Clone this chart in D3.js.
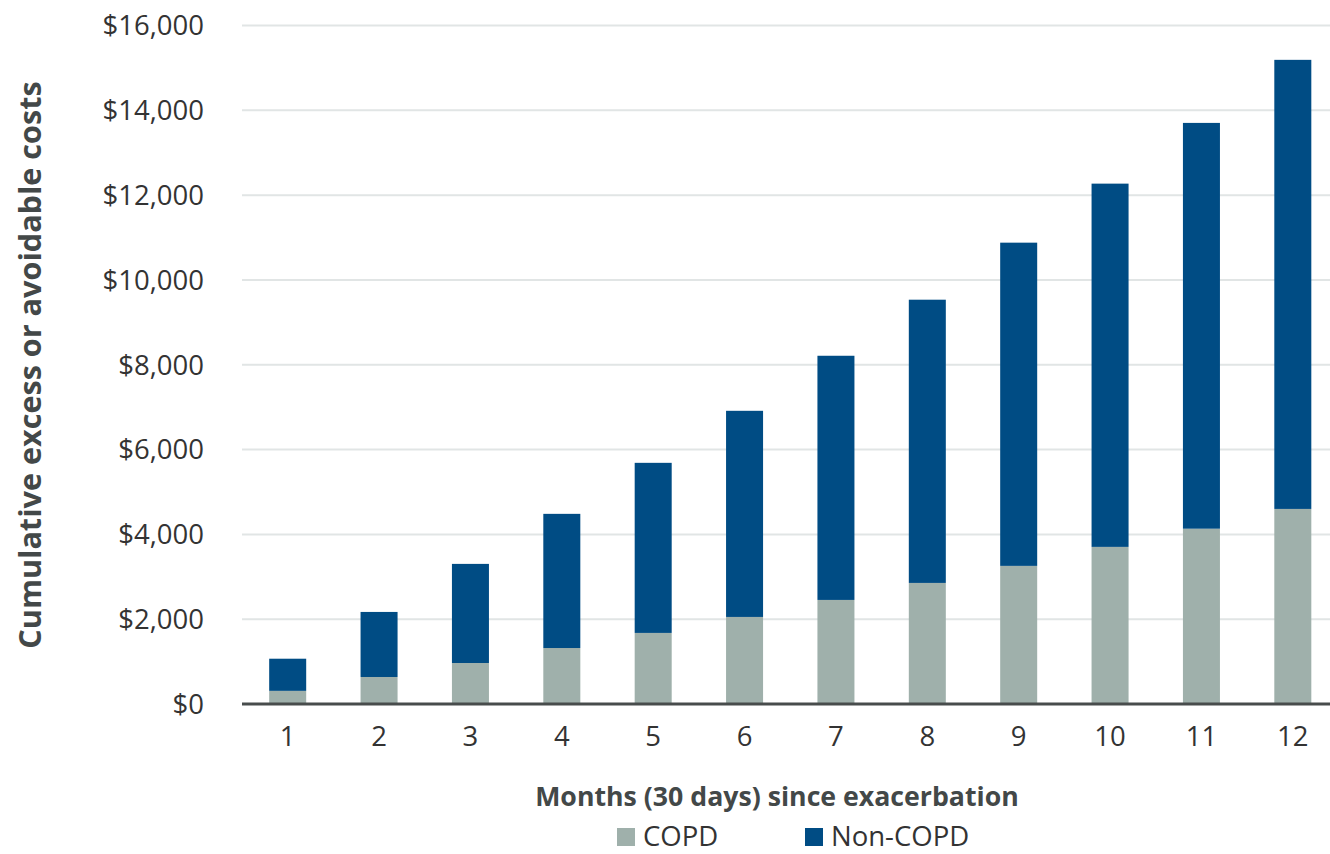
<!DOCTYPE html>
<html>
<head>
<meta charset="utf-8">
<script src="https://cdn.jsdelivr.net/npm/d3@7"></script>
<style>
  html, body { margin: 0; padding: 0; background: #fff; }
  svg { display: block; }
  text { font-family: "Open Sans", "Noto Sans", sans-serif; }
</style>
</head>
<body>
<svg id="chart" width="1330" height="854"></svg>
<script>
const months = ["1","2","3","4","5","6","7","8","9","10","11","12"];
const copd = [310, 637, 967, 1320, 1676, 2053, 2454, 2855, 3257, 3705, 4134, 4600];
const total = [1068, 2171, 3304, 4484, 5687, 6914, 8212, 9534, 10879, 12271, 13703, 15190];
const nonCopd = total.map((t, i) => t - copd[i]);
const yTicks = [0, 2000, 4000, 6000, 8000, 10000, 12000, 14000, 16000];
const seriesNames = ["COPD", "Non-COPD"];
const colors = ["#9FB0AB", "#004C84"];

const svg = d3.select("#chart");
const plotLeft = 242, plotRight = 1338.5, plotTop = 25.5, plotBottom = 704;

const x = d3.scaleBand().domain(months).range([plotLeft, plotRight]).paddingInner(0.595).paddingOuter(0.2975);
const y = d3.scaleLinear().domain([0, 16000]).range([plotBottom, plotTop]);

// gridlines
svg.append("g").selectAll("line").data(yTicks.filter(d => d > 0)).join("line")
  .attr("x1", plotLeft).attr("x2", plotRight)
  .attr("y1", d => y(d)).attr("y2", d => y(d))
  .attr("stroke", "#E1E5E5").attr("stroke-width", 2);

// stacked bars
const rows = months.map((m, i) => ({ month: m, COPD: copd[i], "Non-COPD": nonCopd[i] }));
const stack = d3.stack().keys(seriesNames)(rows);
svg.append("g").selectAll("g").data(stack).join("g")
  .attr("fill", (d, i) => colors[i])
  .selectAll("rect").data(d => d).join("rect")
  .attr("x", d => x(d.data.month))
  .attr("width", x.bandwidth())
  .attr("y", d => y(d[1]))
  .attr("height", d => y(d[0]) - y(d[1]));

// x axis line
svg.append("line").attr("x1", plotLeft).attr("x2", plotRight)
  .attr("y1", plotBottom).attr("y2", plotBottom)
  .attr("stroke", "#484C4C").attr("stroke-width", 3);

// y tick labels
const fmt = d => "$" + d3.format(",")(d);
svg.append("g").selectAll("text").data(yTicks).join("text")
  .attr("x", 204).attr("y", d => y(d)).attr("dy", "0.36em")
  .attr("text-anchor", "end")
  .attr("font-size", 27.5).attr("fill", "#333")
  .text(fmt);

// x tick labels
svg.append("g").selectAll("text").data(months).join("text")
  .attr("x", d => x(d) + x.bandwidth() / 2).attr("y", 746)
  .attr("text-anchor", "middle")
  .attr("font-size", 27.5).attr("fill", "#333")
  .text(d => d);

// axis titles
svg.append("text")
  .attr("transform", "translate(41,365) rotate(-90)")
  .attr("text-anchor", "middle")
  .attr("font-size", 30.6).attr("font-weight", "bold").attr("fill", "#434848")
  .text("Cumulative excess or avoidable costs");

svg.append("text")
  .attr("x", 777).attr("y", 806)
  .attr("text-anchor", "middle")
  .attr("font-size", 26.7).attr("font-weight", "bold").attr("fill", "#434848")
  .text("Months (30 days) since exacerbation");

// legend
const legendX = [617, 805];
const lg = svg.append("g").selectAll("g").data(seriesNames).join("g")
  .attr("transform", (d, i) => `translate(${legendX[i]},828)`);
lg.append("rect").attr("width", 18).attr("height", 18).attr("fill", (d, i) => colors[i]);
lg.append("text").attr("x", 26).attr("y", 18)
  .attr("font-size", 27.5).attr("fill", "#333")
  .text(d => d);
</script>
</body>
</html>
